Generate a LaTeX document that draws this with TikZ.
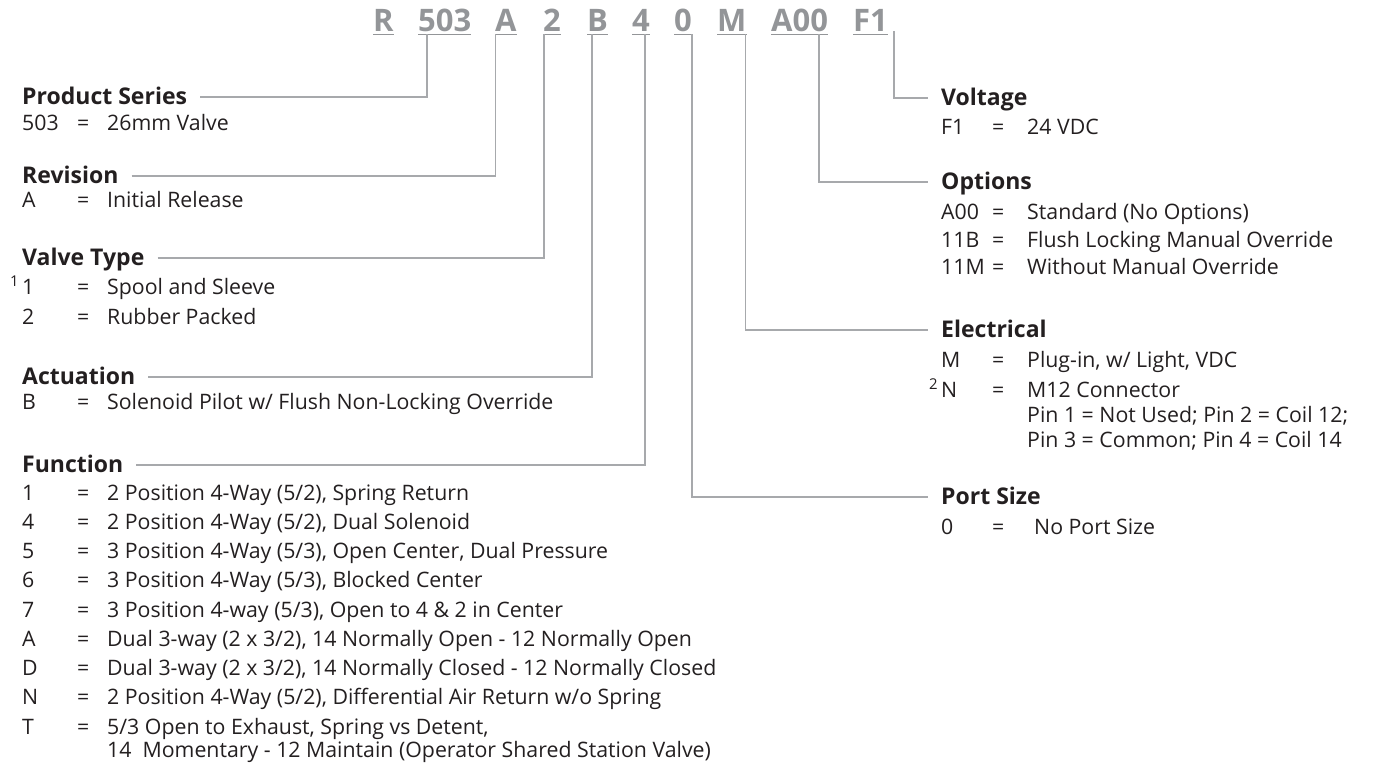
\documentclass[tikz,border=0pt]{standalone}
\usepackage{fontspec}
\setmainfont{Open Sans}
\definecolor{codegray}{HTML}{939598}
\definecolor{leadgray}{HTML}{A7A9AC}
\definecolor{ink}{HTML}{231F20}
% key = value rows, left and right columns
\newcommand{\lrow}[2]{\makebox[55pt][l]{#1}\makebox[30pt][l]{=}#2}
\newcommand{\rrow}[2]{\makebox[51pt][l]{#1}\makebox[35pt][l]{=}#2}
\begin{document}
\begin{tikzpicture}[x=1pt,y=-1pt]
    \tikzset{code/.style={anchor=base west, inner sep=0pt, text=codegray,
        font=\fontsize{31}{31}\selectfont\bfseries},
      hd/.style={anchor=west, inner sep=0pt, text height=15pt, text depth=0pt,
        text=ink, font=\fontsize{23}{23}\selectfont\bfseries},
      row/.style={anchor=base west, inner sep=0pt, text=ink,
        font=\fontsize{21.3}{21.3}\selectfont},
      lead/.style={draw=leadgray, line width=1.4pt},
      uline/.style={draw=codegray, line width=1.6pt}}
    \useasboundingbox (0,0) rectangle (1377,768);
    % part number
    \node[code] (cR) at (373,32) {R};
    \node[code] (c503) at (418,32) {503};
    \node[code] (cA) at (495,32) {A};
    \node[code] (c2) at (543,32) {2};
    \node[code] (cB) at (587,32) {B};
    \node[code] (c4) at (632,32) {4};
    \node[code] (c0) at (674,32) {0};
    \node[code] (cM) at (717,32) {M};
    \node[code] (cA00) at (771,32) {A00};
    \node[code] (cF1) at (853,32) {F1};
    \foreach \c in {cR,c503,cA,c2,cB,c4,c0,cM,cA00,cF1}
      \draw[uline] ([yshift=-2.5pt]\c.base west) -- ([yshift=-2.5pt]\c.base east);
    % where the leads leave the part number
    \coordinate (t503) at ([xshift=9pt,yshift=-2.5pt]c503.base west);
    \coordinate (tA) at ([xshift=0.5pt,yshift=-2.5pt]cA.base west);
    \coordinate (t2) at ([xshift=1pt,yshift=-2.5pt]c2.base west);
    \coordinate (tB) at ([xshift=5pt,yshift=-2.5pt]cB.base west);
    \coordinate (t4) at ([xshift=-5pt,yshift=-2.5pt]c4.base east);
    \coordinate (t0) at ([yshift=-2.5pt]c0.base east);
    \coordinate (tM) at ([xshift=-1pt,yshift=-2.5pt]cM.base east);
    \coordinate (tA00) at ([xshift=-9pt,yshift=-2.5pt]cA00.base east);
    \coordinate (tF1) at ([xshift=6pt,yshift=1pt]cF1.base east);
    % left column
    \node[hd] (hSeries) at (22,97) {Product Series};
    \node[row] (rSeries) at (22,130) {\lrow{503}{26mm Valve}};
    \node[hd] (hRev) at (22,176) {Revision};
    \node[row] (rRev) at (22,207) {\lrow{A}{Initial Release}};
    \node[hd] (hType) at (22,258) {Valve Type};
    \node[row] (rType1) at (22,294) {\lrow{\llap{\textsuperscript{1}\kern3pt}1}{Spool and Sleeve}};
    \node[row] (rType2) at (22,324) {\lrow{2}{Rubber Packed}};
    \node[hd] (hAct) at (22,377) {Actuation};
    \node[row] (rAct) at (22,409) {\lrow{B}{Solenoid Pilot w/ Flush Non-Locking Override}};
    \node[hd] (hFunc) at (22,465) {Function};
    \node[row] (rFunc1) at (22,500) {\lrow{1}{2 Position 4-Way (5/2), Spring Return}};
    \node[row] (rFunc4) at (22,529) {\lrow{4}{2 Position 4-Way (5/2), Dual Solenoid}};
    \node[row] (rFunc5) at (22,558) {\lrow{5}{3 Position 4-Way (5/3), Open Center, Dual Pressure}};
    \node[row] (rFunc6) at (22,587) {\lrow{6}{3 Position 4-Way (5/3), Blocked Center}};
    \node[row] (rFunc7) at (22,617) {\lrow{7}{3 Position 4-way (5/3), Open to 4 \& 2 in Center}};
    \node[row] (rFuncA) at (22,646) {\lrow{A}{Dual 3-way (2 x 3/2), 14 Normally Open - 12 Normally Open}};
    \node[row] (rFuncD) at (22,675) {\lrow{D}{Dual 3-way (2 x 3/2), 14 Normally Closed - 12 Normally Closed}};
    \node[row] (rFuncN) at (22,704) {\lrow{N}{2 Position 4-Way (5/2), Differential Air Return w/o Spring}};
    \node[row] (rFuncT) at (22,734) {\lrow{T}{5/3 Open to Exhaust, Spring vs Detent,}};
    \node[row] (rFuncT2) at (107,757) {14\ \ Momentary - 12 Maintain (Operator Shared Station Valve)};
    % right column
    \node[hd] (hVolt) at (941,98) {Voltage};
    \node[row] (rVolt) at (941,135) {\rrow{F1}{24 VDC}};
    \node[hd] (hOpt) at (941,182) {Options};
    \node[row] (rOpt1) at (941,219) {\rrow{A00}{Standard (No Options)}};
    \node[row] (rOpt2) at (941,247) {\rrow{11B}{Flush Locking Manual Override}};
    \node[row] (rOpt3) at (941,274) {\rrow{11M}{Without Manual Override}};
    \node[hd] (hElec) at (941,330) {Electrical};
    \node[row] (rElecM) at (941,367) {\rrow{M}{Plug-in, w/ Light, VDC}};
    \node[row] (rElecN) at (941,397) {\rrow{\llap{\textsuperscript{2}\kern3pt}N}{M12 Connector}};
    \node[row] (rPin1) at (1027,422) {Pin 1 = Not Used; Pin 2 = Coil 12;};
    \node[row] (rPin3) at (1027,447) {Pin 3 = Common; Pin 4 = Coil 14};
    \node[hd] (hPort) at (941,497) {Port Size};
    \node[row] (rPort) at (941,534) {\rrow{0}{\hspace{7pt}No Port Size}};
    % leads
    \draw[lead] ([xshift=13pt]hSeries.east) -| (t503);
    \draw[lead] ([xshift=13pt]hRev.east) -| (tA);
    \draw[lead] ([xshift=13pt]hType.east) -| (t2);
    \draw[lead] ([xshift=13pt]hAct.east) -| (tB);
    \draw[lead] ([xshift=13pt]hFunc.east) -| (t4);
    \draw[lead] (tF1) |- ([xshift=-13pt]hVolt.west);
    \draw[lead] (tA00) |- ([xshift=-13pt]hOpt.west);
    \draw[lead] (tM) |- ([xshift=-13pt]hElec.west);
    \draw[lead] (t0) |- ([xshift=-13pt]hPort.west);
\end{tikzpicture}
\end{document}
